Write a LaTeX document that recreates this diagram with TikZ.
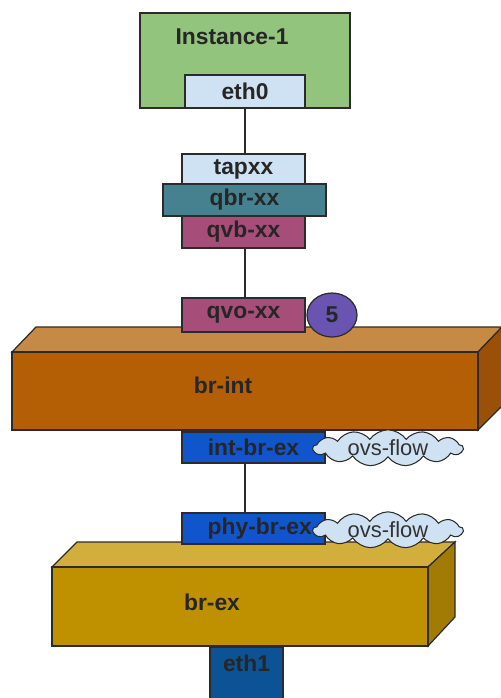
\documentclass[tikz,border=0pt]{standalone}
\usepackage{fontspec}
\setmainfont{Liberation Sans}
\usetikzlibrary{shapes.geometric,shapes.symbols}
\definecolor{InstGreen}{HTML}{93C47D}
\definecolor{PortBlue}{HTML}{CFE2F3}
\definecolor{BridgeTeal}{HTML}{45818E}
\definecolor{VethPink}{HTML}{A64D79}
\definecolor{TagPurple}{RGB}{106,84,178}
\definecolor{IntFront}{HTML}{B45F06}
\definecolor{IntTop}{HTML}{C78A45}
\definecolor{IntSide}{HTML}{9A5006}
\definecolor{ExFront}{HTML}{BF9000}
\definecolor{ExTop}{HTML}{D2AE3C}
\definecolor{ExSide}{HTML}{A27B05}
\definecolor{PatchBlue}{HTML}{1155CC}
\definecolor{NicBlue}{HTML}{0B5394}
\definecolor{EdgeGray}{HTML}{2B2B2B}

\tikzset{
  port/.style={draw=EdgeGray, line width=0.7pt, inner sep=0pt,
    font=\bfseries\fontsize{13}{15}\selectfont, text=black!85},
  flow/.style={cloud, cloud puffs=13, cloud puff arc=110, cloud ignores aspect,
    draw=EdgeGray, line width=0.6pt, fill=PortBlue, inner sep=0pt,
    minimum width=3.0cm, minimum height=0.62cm,
    font=\fontsize{12.5}{15}\selectfont, text=black!80},
  face/.style={draw=EdgeGray, line width=0.7pt},
  wire/.style={draw=EdgeGray, line width=1pt}
}

\begin{document}
\begin{tikzpicture}[x=0.02cm,y=-0.02cm]
    \useasboundingbox (0,0) rectangle (501,698);
    %%Instance
    \node[port, fill=InstGreen, minimum width=4.2cm, minimum height=1.9cm] (inst) at (245,60.5) {};
    \node[port, draw=none] (instlbl) at (232,37) {Instance-1};
    \node[port, fill=PortBlue, minimum width=2.4cm, minimum height=0.66cm] (eth0) at (245,91.5) {eth0};
    %%Linux bridge
    \node[port, fill=PortBlue, minimum width=2.46cm, minimum height=0.6cm] (tapxx) at (243.5,169) {tapxx};
    \node[port, fill=VethPink, minimum width=2.46cm, minimum height=0.64cm] (qvb) at (243.5,232) {qvb-xx};
    \node[port, fill=BridgeTeal, minimum width=3.26cm, minimum height=0.64cm] (qbr) at (244.5,200) {qbr-xx};
    \draw[wire] (eth0.south) -- (eth0.south |- tapxx.north);
    %%br-int
    \draw[face, fill=IntTop] (12,352) -- (36,327) -- (502,327) -- (478,352) -- cycle;
    \draw[face, fill=IntSide] (478,352) -- (502,327) -- (502,406) -- (478,430) -- cycle;
    \node[port, fill=IntFront, minimum width=9.32cm, minimum height=1.56cm] (brint) at (245,391) {};
    \node[port, draw=none] (brintlbl) at (223,385) {br-int};
    \node[port, fill=VethPink, minimum width=2.46cm, minimum height=0.68cm] (qvo) at (243.5,315) {qvo-xx};
    \node[port, ellipse, fill=TagPurple, minimum width=1.0cm, minimum height=0.88cm] (vlan) at (332,315) {5};
    \draw[wire] (eth0.south |- qvb.south) -- (eth0.south |- qvo.north);
    \node[port, fill=PatchBlue, minimum width=2.86cm, minimum height=0.62cm] (intbrex) at (253.5,447.5) {int-br-ex};
    \node[flow] (flowint) at (388,448) {ovs-flow};
    %%br-ex
    \draw[face, fill=ExTop] (52,567) -- (77,542) -- (455,542) -- (428,567) -- cycle;
    \draw[face, fill=ExSide] (428,567) -- (455,542) -- (455,617) -- (428,646) -- cycle;
    \node[port, fill=ExFront, minimum width=7.52cm, minimum height=1.58cm] (brex) at (240,606.5) {};
    \node[port, draw=none] (brexlbl) at (212,602) {br-ex};
    \node[port, fill=PatchBlue, minimum width=2.86cm, minimum height=0.62cm] (phybrex) at (253.5,528.5) {\hspace{0.25cm}phy-br-ex};
    \node[flow] (flowphy) at (388,530) {ovs-flow};
    \draw[wire] (eth0.south |- intbrex.south) -- (eth0.south |- phybrex.north);
    \node[port, fill=NicBlue, minimum width=1.46cm, minimum height=1.2cm, text depth=0.55cm] (eth1) at (246.5,677) {eth1};
\end{tikzpicture}
\end{document}
